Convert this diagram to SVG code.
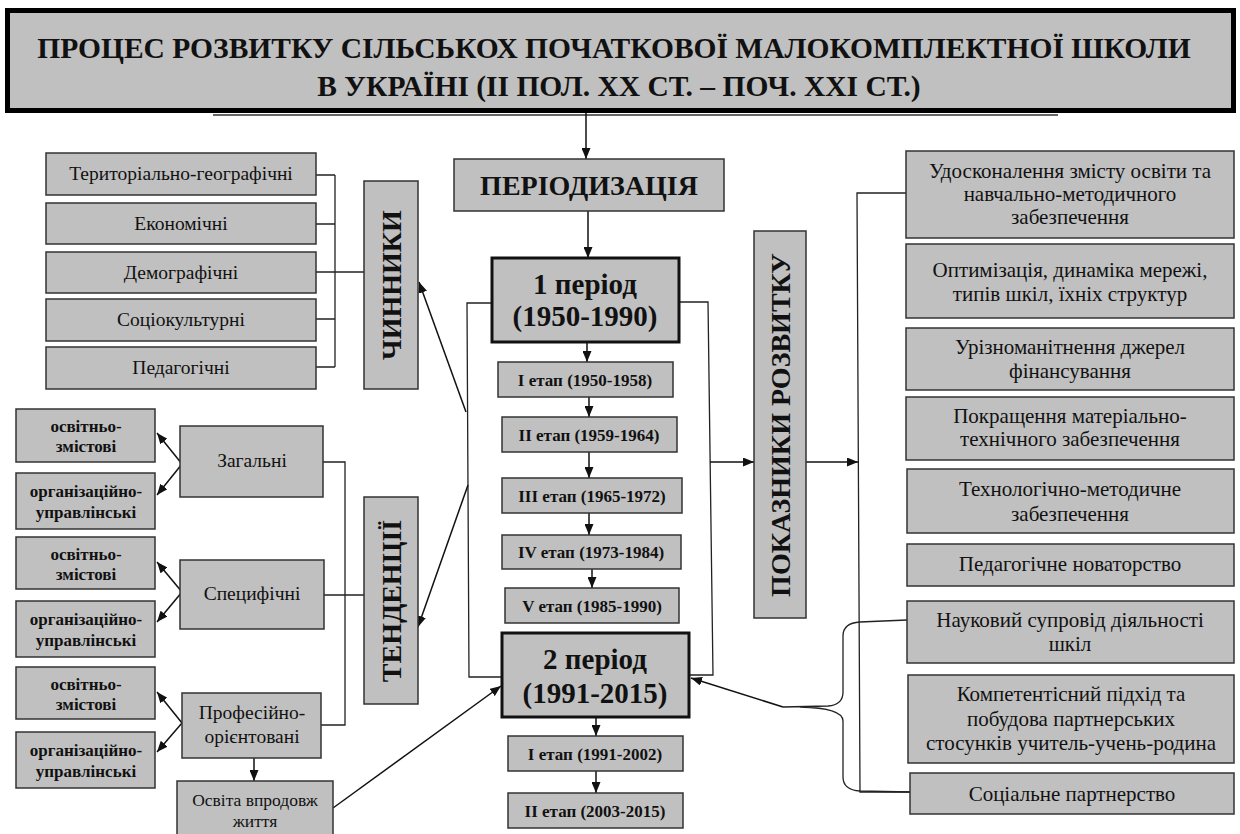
<svg xmlns="http://www.w3.org/2000/svg" width="1240" height="834" viewBox="0 0 1240 834">
<defs>
<marker id="ah" markerUnits="userSpaceOnUse" markerWidth="11" markerHeight="9" refX="11" refY="4.5" orient="auto">
<path d="M0,0 L11,4.5 L0,9 z" fill="#111"/>
</marker>
<style>
.b{fill:#c0c0c0;stroke:#333;stroke-width:1.5}
.p{fill:#c0c0c0;stroke:#111;stroke-width:3}
.c{fill:none;stroke:#222;stroke-width:1.3}
.a{fill:none;stroke:#111;stroke-width:1.5;marker-end:url(#ah)}
text{font-family:"Liberation Serif","Times New Roman",serif;fill:#111;text-anchor:middle}
.t{font-size:29.5px;font-weight:bold}
.f{font-size:19.5px}
.v{font-size:28px;font-weight:bold}
.s{font-size:17px;font-weight:bold}
.o{font-size:17.5px}
.g{font-size:19.5px}
.st{font-size:17px;font-weight:bold}
.pr{font-size:29px;font-weight:bold}
.r{font-size:21px}
</style>
</defs>
<rect width="1240" height="834" fill="#fff"/>

<g id="title">
<rect x="7.5" y="10.5" width="1226" height="100" fill="#c0c0c0" stroke="#000" stroke-width="5"/>
<line x1="213" y1="115" x2="1058" y2="115" stroke="#333" stroke-width="1.5"/>
<text class="t" x="614" y="58">ПРОЦЕС РОЗВИТКУ СІЛЬСЬКОХ ПОЧАТКОВОЇ МАЛОКОМПЛЕКТНОЇ ШКОЛИ</text>
<text class="t" x="619" y="96">В УКРАЇНІ (ІІ ПОЛ. ХХ СТ. – ПОЧ. ХХІ СТ.)</text>
</g>

<g id="connectors">
<line class="a" x1="586" y1="113" x2="586" y2="159"/>
<line class="a" x1="588" y1="211" x2="588" y2="258"/>
<line class="a" x1="587" y1="342" x2="587" y2="362"/>
<line class="a" x1="589" y1="397" x2="589" y2="417"/>
<line class="a" x1="589" y1="452" x2="589" y2="478"/>
<line class="a" x1="589" y1="513" x2="589" y2="535"/>
<line class="a" x1="592" y1="569" x2="592" y2="588"/>
<line class="a" x1="596" y1="717" x2="596" y2="736"/>
<line class="a" x1="596" y1="771" x2="596" y2="793"/>
<polyline class="c" points="492,303 467,303 469,677 502,677"/>
<line class="a" x1="466" y1="412" x2="419" y2="282"/>
<line class="a" x1="468" y1="485" x2="418" y2="627"/>
<polyline class="c" points="679,302 708,302 713,675 689,675"/>
<line class="a" x1="710" y1="462" x2="754" y2="462"/>
<line class="a" x1="806" y1="462" x2="858" y2="462"/>
<polyline class="c" points="907,193 857,193 860,792 910,792"/>
<path class="c" d="M907,620 L860,622 Q843,623 843,636 L843,692 Q843,705 828,706 L783,707 M800,707 Q843,708 843,721 L843,777 Q843,790 860,791 L910,792"/>
<line class="a" x1="783" y1="707" x2="691" y2="678"/>
<path class="c" d="M316,175 H335 M316,224 H335 M316,272 H364 M316,319 H335 M316,367 H335 M335,175 V367"/>
<path class="c" d="M323,462 H345 V725 H321 M324,595 H364"/>
<line class="a" x1="182" y1="464" x2="157" y2="433"/>
<line class="a" x1="182" y1="464" x2="157" y2="495"/>
<line class="a" x1="182" y1="592" x2="157" y2="562"/>
<line class="a" x1="182" y1="592" x2="157" y2="622"/>
<line class="a" x1="182" y1="723" x2="157" y2="692"/>
<line class="a" x1="182" y1="723" x2="157" y2="752"/>
<line class="a" x1="254" y1="758" x2="254" y2="781"/>
<line class="a" x1="333" y1="808" x2="501" y2="686"/>
</g>

<g id="n-terr"><rect class="b" x="46" y="153" width="270" height="42"/><text class="f" x="181" y="180">Територіально-географічні</text></g>
<g id="n-econ"><rect class="b" x="46" y="203" width="270" height="41"/><text class="f" x="181" y="230">Економічні</text></g>
<g id="n-demo"><rect class="b" x="46" y="252" width="270" height="41"/><text class="f" x="181" y="279">Демографічні</text></g>
<g id="n-soc"><rect class="b" x="46" y="299" width="270" height="42"/><text class="f" x="181" y="326">Соціокультурні</text></g>
<g id="n-ped"><rect class="b" x="46" y="347" width="270" height="42"/><text class="f" x="181" y="374">Педагогічні</text></g>

<g id="n-chynnyky"><rect class="b" x="364" y="181" width="54" height="208"/><text class="v" transform="rotate(-90 391 285)" x="391" y="295">ЧИННИКИ</text></g>
<g id="n-tend"><rect class="b" x="364" y="497" width="54" height="207"/><text class="v" transform="rotate(-90 391 601)" x="391" y="611">ТЕНДЕНЦІЇ</text></g>

<g id="n-oz1"><rect class="b" x="16" y="409" width="139" height="53"/><text class="s" x="86" y="432">освітньо-</text><text class="s" x="86" y="452">змістові</text></g>
<g id="n-ou1"><rect class="b" x="16" y="473" width="139" height="56"/><text class="s" x="86" y="497">організаційно-</text><text class="s" x="86" y="518">управлінські</text></g>
<g id="n-oz2"><rect class="b" x="16" y="537" width="139" height="52"/><text class="s" x="86" y="560">освітньо-</text><text class="s" x="86" y="580">змістові</text></g>
<g id="n-ou2"><rect class="b" x="16" y="601" width="139" height="56"/><text class="s" x="86" y="625">організаційно-</text><text class="s" x="86" y="646">управлінські</text></g>
<g id="n-oz3"><rect class="b" x="16" y="667" width="139" height="52"/><text class="s" x="86" y="690">освітньо-</text><text class="s" x="86" y="710">змістові</text></g>
<g id="n-ou3"><rect class="b" x="16" y="732" width="139" height="56"/><text class="s" x="86" y="756">організаційно-</text><text class="s" x="86" y="777">управлінські</text></g>

<g id="n-zag"><rect class="b" x="180" y="426" width="143" height="71"/><text class="g" x="252" y="467">Загальні</text></g>
<g id="n-spec"><rect class="b" x="180" y="560" width="144" height="69"/><text class="g" x="252" y="600">Специфічні</text></g>
<g id="n-prof"><rect class="b" x="182" y="693" width="139" height="65"/><text class="g" x="252" y="719">Професійно-</text><text class="g" x="252" y="743">орієнтовані</text></g>
<g id="n-osvita"><rect class="b" x="177" y="781" width="156" height="60"/><text class="o" x="255" y="806">Освіта впродовж</text><text class="o" x="255" y="827">життя</text></g>

<g id="n-period"><rect class="b" x="454" y="159" width="270" height="52"/><text x="589" y="195" style="font-size:28px;font-weight:bold">ПЕРІОДИЗАЦІЯ</text></g>
<g id="n-p1"><rect class="p" x="492" y="258" width="187" height="84"/><text class="pr" x="585" y="294">1 період</text><text class="pr" x="585" y="326">(1950-1990)</text></g>
<g id="n-e1"><rect class="b" x="498" y="362" width="175" height="35"/><text class="st" x="585" y="386">І етап (1950-1958)</text></g>
<g id="n-e2"><rect class="b" x="502" y="417" width="175" height="35"/><text class="st" x="589" y="441">ІІ етап (1959-1964)</text></g>
<g id="n-e3"><rect class="b" x="502" y="478" width="180" height="35"/><text class="st" x="592" y="502">ІІІ етап (1965-1972)</text></g>
<g id="n-e4"><rect class="b" x="502" y="535" width="179" height="34"/><text class="st" x="591" y="558">IV етап (1973-1984)</text></g>
<g id="n-e5"><rect class="b" x="505" y="588" width="174" height="35"/><text class="st" x="592" y="612">V етап (1985-1990)</text></g>
<g id="n-p2"><rect class="p" x="502" y="633" width="187" height="84"/><text class="pr" x="595" y="669">2 період</text><text class="pr" x="595" y="703">(1991-2015)</text></g>
<g id="n-e6"><rect class="b" x="508" y="736" width="175" height="35"/><text class="st" x="595" y="760">І етап (1991-2002)</text></g>
<g id="n-e7"><rect class="b" x="508" y="793" width="175" height="35"/><text class="st" x="595" y="817">ІІ етап (2003-2015)</text></g>

<g id="n-pokaz"><rect class="b" x="754" y="231" width="52" height="387"/><text class="v" transform="rotate(-90 780 425)" x="780" y="435">ПОКАЗНИКИ РОЗВИТКУ</text></g>

<g id="n-r1"><rect class="b" x="906" y="151" width="328" height="87"/><text class="r" x="1070" y="178">Удосконалення змісту освіти та</text><text class="r" x="1070" y="201">навчально-методичного</text><text class="r" x="1070" y="224">забезпечення</text></g>
<g id="n-r2"><rect class="b" x="906" y="244" width="328" height="74"/><text class="r" x="1070" y="277">Оптимізація, динаміка мережі,</text><text class="r" x="1070" y="301">типів шкіл, їхніх структур</text></g>
<g id="n-r3"><rect class="b" x="906" y="328" width="328" height="62"/><text class="r" x="1070" y="354">Урізноманітнення джерел</text><text class="r" x="1070" y="378">фінансування</text></g>
<g id="n-r4"><rect class="b" x="906" y="397" width="328" height="63"/><text class="r" x="1070" y="423">Покращення матеріально-</text><text class="r" x="1070" y="446">технічного забезпечення</text></g>
<g id="n-r5"><rect class="b" x="907" y="469" width="327" height="64"/><text class="r" x="1070" y="496">Технологічно-методичне</text><text class="r" x="1070" y="521">забезпечення</text></g>
<g id="n-r6"><rect class="b" x="907" y="544" width="327" height="42"/><text class="r" x="1070" y="571">Педагогічне новаторство</text></g>
<g id="n-r7"><rect class="b" x="907" y="601" width="327" height="62"/><text class="r" x="1070" y="627">Науковий супровід діяльності</text><text class="r" x="1070" y="651">шкіл</text></g>
<g id="n-r8"><rect class="b" x="908" y="675" width="326" height="88"/><text class="r" x="1071" y="701">Компетентісний підхід та</text><text class="r" x="1071" y="726">побудова партнерських</text><text class="r" x="1071" y="750">стосунків учитель-учень-родина</text></g>
<g id="n-r9"><rect class="b" x="910" y="773" width="324" height="41"/><text class="r" x="1072" y="801">Соціальне партнерство</text></g>
</svg>
